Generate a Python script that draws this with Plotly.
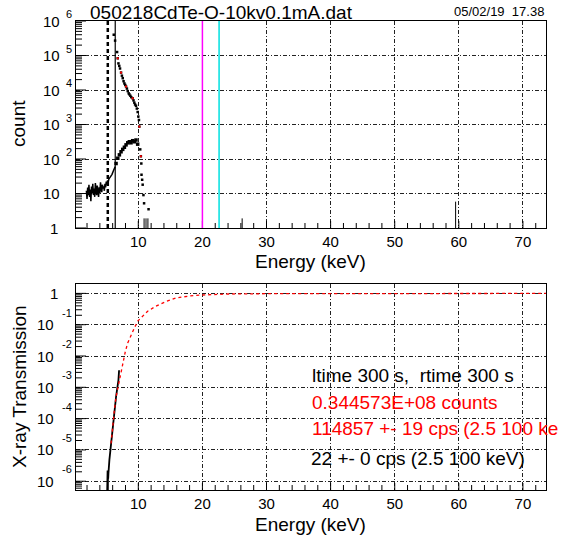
import math
import plotly.graph_objects as go

FONT = "Liberation Sans, Arial, Helvetica, sans-serif"
W, H = 565, 539

# ---------------- spectrum (top panel) ----------------
# low-energy noisy region, counts per bin
noise_energy = [1.9, 2.0, 2.1, 2.2, 2.3, 2.4, 2.5, 2.6, 2.7, 2.8, 2.9, 3.0, 3.1, 3.2,
                3.3, 3.4, 3.5, 3.6, 3.7, 3.8, 3.9, 4.0, 4.1, 4.2, 4.3, 4.4, 4.5, 4.6,
                4.7, 4.8, 4.9, 5.0, 5.1, 5.2, 5.3, 5.4, 5.5, 5.7, 5.9, 6.1, 6.3, 6.4]
noise_counts = [12, 7, 15, 9, 18, 8, 13, 6, 16, 10, 19, 9, 14, 8,
                20, 11, 9, 17, 12, 8, 15, 10, 21, 13, 11, 18, 14, 16,
                12, 19, 15, 22, 18, 24, 21, 26, 28, 30, 36, 45, 52, 60]

# measured peak rising to the 10 keV edge
rise_energy = [6.53, 6.8, 7.05, 7.31, 7.57, 7.83, 8.09, 8.35, 8.6, 8.86,
               9.12, 9.38, 9.64, 9.9]
rise_counts = [74, 105, 132, 162, 190, 219, 257, 295, 316, 295,
               339, 316, 355, 269]

# falling spectrum above 6 keV
fall_energy = [6.17, 6.38, 6.69, 6.79, 6.9, 7.03, 7.15, 7.31, 7.44, 7.57, 7.7,
               7.83, 7.96, 8.09, 8.22, 8.35, 8.5, 8.6, 8.76, 8.9, 9.12, 9.25,
               9.38, 9.5, 9.64, 9.77, 9.9, 10.0, 10.1, 10.16, 10.3, 10.4,
               10.47, 10.5, 10.6, 10.68, 10.8, 10.9, 11.6]
fall_counts = [4.0e5, 2.7e5, 1.26e5, 8.3e4, 5.9e4, 5.0e4, 4.2e4, 3.2e4, 2.6e4,
               2.2e4, 1.8e4, 1.55e4, 1.4e4, 1.26e4, 1.1e4, 9.3e3, 8.0e3, 7.5e3,
               6.8e3, 6.2e3, 5.75e3, 5.0e3, 4.3e3, 3.8e3, 3.5e3, 2.9e3, 2.3e3,
               1.7e3, 1.35e3, 870, 190, 120, 74, 35, 25, 18, 9, 5.2, 3.5]
fall_red_energy = [6.79, 7.31, 8.09, 9.12, 10.16, 10.4]
fall_red_counts = [8.3e4, 3.2e4, 1.26e4, 5.75e3, 870, 120]

# isolated single-bin hits
spike_energy = [10.9, 11.2, 11.5, 26.2, 59.5]
spike_counts = [1.9, 1.9, 1.9, 1.9, 5.8]

# marker lines (keV)
cut_low, cut_peak, line_mag, line_cyan = 5.24, 6.4, 20.0, 22.6

# ---------------- transmission (bottom panel) ----------------
model_energy = [5.75, 6.01, 6.27, 6.53, 6.95, 7.31, 7.67, 7.98, 8.35, 8.86, 9.38,
                9.9, 10.68, 11.46, 12.75, 14.3, 15.86, 18, 20, 22, 24, 30, 40,
                50, 60, 73.6]
model_trans = [1.6e-5, 7.1e-5, 1.9e-4, 5.0e-4, 1.4e-3, 3.6e-3, 7.6e-3, 0.014,
               0.026, 0.048, 0.078, 0.13, 0.19, 0.27, 0.39, 0.55, 0.71, 0.83,
               0.89, 0.93, 0.955, 0.977, 0.989, 0.993, 0.995, 0.998]

data_energy = [5.08, 5.10, 5.12, 5.15, 5.18, 5.21, 5.24, 5.27, 5.30, 5.34, 5.49,
               5.75, 6.01, 6.27, 6.53, 6.9, 7.0]
data_trans = [1e-7, 1.5e-6, 2e-7, 2e-6, 2e-7, 2.2e-6, 3e-7, 1.8e-6, 1.2e-6,
              1.8e-6, 4.8e-6, 1.6e-5, 7.1e-5, 1.9e-4, 5.0e-4, 1.7e-3, 3.5e-3]

top_decades = [0, 1, 2, 3, 4, 5, 6]
bot_decades = [0, -1, -2, -3, -4, -5, -6]

x_range = [0.28, 73.6]
top_log_range = [0, 6]
bot_log_range = [-6.28, 0.30]

# pixel layout helpers
def px(x):
    return x / W

def py(y):
    return 1 - y / H

TOP_PX = (21, 228)
BOT_PX = (284, 490)
PLOT_W = 470

fig = go.Figure()

# top panel traces
fig.add_trace(go.Scatter(x=noise_energy, y=noise_counts, mode="lines",
                         line=dict(color="black", width=1.5),
                         xaxis="x", yaxis="y"))
fig.add_trace(go.Scatter(x=rise_energy, y=rise_counts, mode="markers",
                         marker=dict(color="black", size=3.5, symbol="square"),
                         xaxis="x", yaxis="y"))
fig.add_trace(go.Scatter(x=fall_energy, y=fall_counts, mode="markers",
                         marker=dict(color="black", size=2.5, symbol="square"),
                         xaxis="x", yaxis="y"))
fig.add_trace(go.Scatter(x=fall_red_energy, y=fall_red_counts, mode="markers",
                         marker=dict(color="red", size=2, symbol="square"),
                         xaxis="x", yaxis="y"))
sx, sy = [], []
for e, c in zip(spike_energy, spike_counts):
    sx += [e, e, None]
    sy += [1, c, None]
fig.add_trace(go.Scatter(x=sx, y=sy, mode="lines",
                         line=dict(color="black", width=1),
                         xaxis="x", yaxis="y"))

# bottom panel traces
fig.add_trace(go.Scatter(x=data_energy, y=data_trans, mode="lines",
                         line=dict(color="black", width=1.8),
                         xaxis="x2", yaxis="y2"))
fig.add_trace(go.Scatter(x=model_energy, y=model_trans, mode="lines",
                         line=dict(color="red", width=1.3, dash="dot"),
                         xaxis="x2", yaxis="y2"))

# inside tick marks drawn as short segments: every 2 keV on x, 1..9 per decade on y
keV_per_px = (x_range[1] - x_range[0]) / PLOT_W
for xa, ya, (ptop, pbot), lr in (("x", "y", TOP_PX, top_log_range),
                                 ("x2", "y2", BOT_PX, bot_log_range)):
    dec_per_px = (lr[1] - lr[0]) / (pbot - ptop)
    tx, ty = [], []
    for e in range(2, 74, 2):
        ln = 7 if e % 10 == 0 else 5
        tx += [e, e, None]
        ty += [10 ** lr[0], 10 ** (lr[0] + ln * dec_per_px), None]
    for d in range(math.floor(lr[0]), math.ceil(lr[1]) + 1):
        for k in range(1, 10):
            lv = d + math.log10(k)
            if lv < lr[0] or lv > lr[1]:
                continue
            ln = 10 if k == 1 else 6
            tx += [x_range[0], x_range[0] + ln * keV_per_px, None]
            ty += [10 ** lv, 10 ** lv, None]
    fig.add_trace(go.Scatter(x=tx, y=ty, mode="lines", hoverinfo="skip",
                             line=dict(color="black", width=1),
                             xaxis=xa, yaxis=ya))

axis_common = dict(showline=True, linecolor="black", linewidth=1, mirror=True,
                   showgrid=True, gridcolor="#222", gridwidth=1,
                   griddash="4px,2px,1px,2px", zeroline=False,
                   ticks="inside", ticklen=1, tickcolor="black")

xdomain = [px(76), px(546)]
xaxis_cfg = dict(domain=xdomain, range=x_range, tick0=0, dtick=10,
                 tickfont=dict(size=15, family=FONT), **axis_common)

fig.update_layout(
    width=W, height=H,
    margin=dict(l=0, r=0, t=0, b=0),
    paper_bgcolor="white", plot_bgcolor="white",
    showlegend=False,
    font=dict(family=FONT, color="black"),
    xaxis=dict(anchor="y", **xaxis_cfg),
    yaxis=dict(domain=[py(TOP_PX[1]), py(TOP_PX[0])], type="log",
               range=top_log_range, anchor="x", dtick=1, showticklabels=False,
               **axis_common),
    xaxis2=dict(anchor="y2", **xaxis_cfg),
    yaxis2=dict(domain=[py(BOT_PX[1]), py(BOT_PX[0])], type="log",
                range=bot_log_range, anchor="x2", dtick=1, showticklabels=False,
                **axis_common),
)

# vertical marker lines in the spectrum panel
shapes = [
    dict(type="line", xref="x", yref="y domain", x0=cut_low, x1=cut_low, y0=0, y1=1,
         line=dict(color="black", width=2.5, dash="4px,3px")),
    dict(type="line", xref="x", yref="y domain", x0=cut_peak, x1=cut_peak, y0=0, y1=1,
         line=dict(color="black", width=1.2)),
    dict(type="line", xref="x", yref="y domain", x0=line_mag, x1=line_mag, y0=0, y1=1,
         line=dict(color="#ff00ff", width=1.5)),
    dict(type="line", xref="x", yref="y domain", x0=line_cyan, x1=line_cyan, y0=0, y1=1,
         line=dict(color="#00e0e0", width=1.5)),
]
fig.update_layout(shapes=shapes)

ann = []

def add_text(text, x, y, size, color="black", xanchor="center", yanchor="middle",
             angle=0, xref="paper", yref="paper", yshift=0):
    ann.append(dict(text=text, x=x, y=y, xref=xref, yref=yref, showarrow=False,
                    xanchor=xanchor, yanchor=yanchor, textangle=angle,
                    yshift=yshift,
                    font=dict(size=size, color=color, family=FONT)))

# y tick labels, "10" with a raised exponent
for d in top_decades:
    if d == 0:
        add_text("1", px(60), d, 15, xanchor="right", yref="y")
    elif d == 1:
        add_text("10", px(62), d, 15, xanchor="right", yref="y")
    else:
        add_text("10", px(62), d, 15, xanchor="right", yref="y")
        add_text(str(d), px(64), d, 11, xanchor="left", yref="y", yshift=7)
for d in bot_decades:
    if d == 0:
        add_text("1", px(60), d, 15, xanchor="right", yref="y2")
    else:
        add_text("10", px(56), d, 15, xanchor="right", yref="y2")
        add_text(str(d), px(60), d, 11, xanchor="left", yref="y2", yshift=12)

# titles and axis labels
add_text("050218CdTe-O-10kv0.1mA.dat", px(221), py(13), 19)
add_text("05/02/19&nbsp;&nbsp;17.38", px(546), py(12), 13, xanchor="right")
add_text("count", px(18), py(124), 19, angle=-90)
add_text("X-ray Transmission", px(19), py(387), 19, angle=-90)
add_text("Energy (keV)", px(310), py(261), 19)
add_text("Energy (keV)", px(310), py(524), 19)

# run summary
add_text("ltime 300 s,&nbsp;&nbsp;rtime 300 s", px(310), py(375), 19, xanchor="left")
add_text("0.344573E+08 counts", px(310), py(402), 19, color="red", xanchor="left")
add_text("114857 +- 19 cps (2.5 100 ke", px(310), py(428), 19, color="red",
         xanchor="left")
add_text("22 +- 0 cps (2.5 100 keV)", px(309), py(458), 19, xanchor="left")

fig.update_layout(annotations=ann)

fig.write_html("out.html")
